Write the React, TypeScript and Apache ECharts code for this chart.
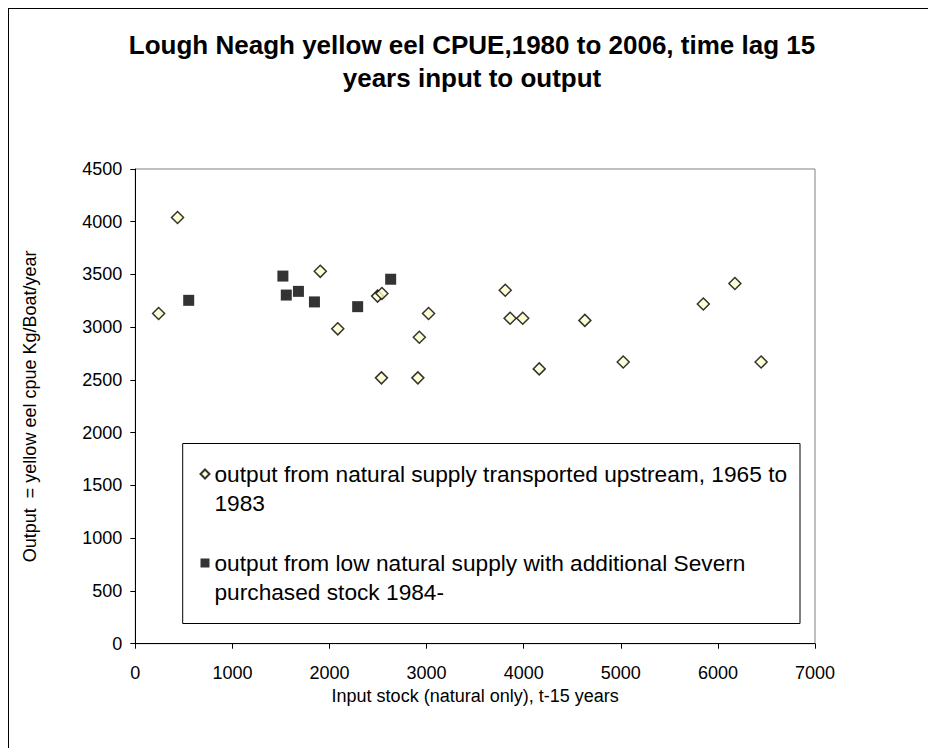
import React, { useEffect, useRef } from "react";
import * as echarts from "echarts";

const FONT = '"Liberation Sans", Arial, Helvetica, sans-serif';

const titleLines = [
  "Lough Neagh yellow eel CPUE,1980 to 2006, time lag 15",
  "years input to output",
];
const xAxisName = "Input stock (natural only), t-15 years";
const yAxisName = "Output  = yellow eel cpue Kg/Boat/year";

const seriesNames = [
  "output from natural supply transported upstream, 1965 to 1983",
  "output from low natural supply with additional Severn purchased stock 1984-",
];
const legendLabels = [
  "output from natural supply transported upstream, 1965 to\n1983",
  "output from low natural supply with additional Severn\npurchased stock 1984-",
];

// x = input stock (natural only), t-15 years ; y = output cpue
const naturalInput = [240, 435, 1905, 2085, 2495, 2540, 2535, 2925, 2910, 3020, 3810, 3860, 3990, 4160, 4630, 5025, 5850, 6175, 6445];
const naturalOutput = [3130, 4040, 3530, 2985, 3295, 3320, 2520, 2905, 2520, 3130, 3350, 3085, 3085, 2605, 3065, 2670, 3220, 3415, 2670];

const severnInput = [550, 1520, 1555, 1680, 1845, 2290, 2630];
const severnOutput = [3255, 3485, 3305, 3340, 3240, 3195, 3455];

const xMin = 0;
const xMax = 7000;
const xStep = 1000;
const yMin = 0;
const yMax = 4500;
const yStep = 500;

export default function App() {
  const ref = useRef<HTMLDivElement>(null);

  useEffect(() => {
    if (!ref.current) return;
    const chart = echarts.init(ref.current, undefined, { renderer: "svg" });
    const W = 928;
    const H = 740;

    const naturalData = naturalInput.map((x, i) => [x, naturalOutput[i]]);
    const severnData = severnInput.map((x, i) => [x, severnOutput[i]]);

    chart.setOption({
      animation: false,
      backgroundColor: "#ffffff",
      title: {
        text: titleLines.join("\n"),
        left: "center",
        top: 20,
        padding: 0,
        textStyle: {
          fontFamily: FONT,
          fontSize: 26,
          fontWeight: "bold",
          lineHeight: 33,
          color: "#000",
        },
      },
      grid: {
        left: 127.3,
        right: 121,
        top: 161,
        bottom: 104.3,
        show: true,
        borderColor: "#808080",
        borderWidth: 1,
        backgroundColor: "transparent",
      },
      xAxis: {
        type: "value",
        min: xMin,
        max: xMax,
        interval: xStep,
        name: xAxisName,
        nameLocation: "middle",
        nameGap: 42,
        nameTextStyle: { fontFamily: FONT, fontSize: 18, color: "#000" },
        axisLine: { show: true, onZero: false, lineStyle: { color: "#000", width: 1 } },
        axisTick: { show: true, inside: false, length: 5, lineStyle: { color: "#000" } },
        axisLabel: {
          fontFamily: FONT,
          fontSize: 18,
          color: "#000",
          margin: 20,
          formatter: (v: number) => String(v),
        },
        splitLine: { show: false },
      },
      yAxis: {
        type: "value",
        min: yMin,
        max: yMax,
        interval: yStep,
        name: yAxisName,
        nameLocation: "middle",
        nameGap: 96,
        nameTextStyle: { fontFamily: FONT, fontSize: 18, color: "#000" },
        axisLine: { show: true, onZero: false, lineStyle: { color: "#000", width: 1 } },
        axisTick: { show: true, inside: false, length: 5, lineStyle: { color: "#000" } },
        axisLabel: {
          fontFamily: FONT,
          fontSize: 18,
          color: "#000",
          margin: 13,
          formatter: (v: number) => String(v),
        },
        splitLine: { show: false },
      },
      legend: {
        orient: "vertical",
        left: 191.5,
        top: 422.5,
        padding: 0,
        itemGap: 2,
        itemWidth: 9,
        itemHeight: 9,
        selectedMode: false,
        data: seriesNames,
        formatter: (name: string) => "\n" + legendLabels[seriesNames.indexOf(name)],
        textStyle: {
          fontFamily: FONT,
          fontSize: 22.7,
          lineHeight: 29,
          color: "#000",
        },
        z: 10,
      },
      graphic: [
        {
          type: "line",
          shape: { x1: 0, y1: 0.5, x2: W, y2: 0.5 },
          style: { stroke: "#000", lineWidth: 1 },
          silent: true,
        },
        {
          type: "line",
          shape: { x1: 0.5, y1: 0, x2: 0.5, y2: H },
          style: { stroke: "#000", lineWidth: 1 },
          silent: true,
        },
        {
          type: "rect",
          shape: { x: 174.7, y: 435.5, width: 617.3, height: 180 },
          style: { fill: "#fff", stroke: "#000", lineWidth: 1 },
          silent: true,
          z: 1,
        },
      ],
      series: [
        {
          name: seriesNames[0],
          type: "scatter",
          symbol: "diamond",
          symbolSize: 12,
          itemStyle: { color: "#FFFFCC", borderColor: "#000", borderWidth: 1.5 },
          data: naturalData,
          z: 3,
          emphasis: { disabled: true },
        },
        {
          name: seriesNames[1],
          type: "scatter",
          symbol: "rect",
          symbolSize: 11,
          itemStyle: { color: "#000" },
          data: severnData,
          z: 4,
          emphasis: { disabled: true },
        },
      ],
    });

    return () => {
      chart.dispose();
    };
  }, []);

  return <div ref={ref} style={{ width: 928, height: 740 }} />;
}
